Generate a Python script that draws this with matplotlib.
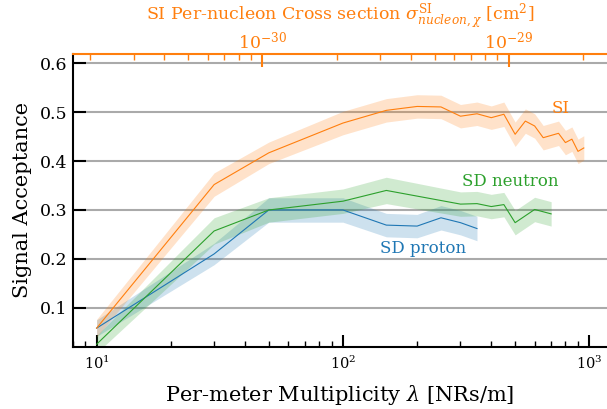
import numpy as np
import matplotlib
matplotlib.use("Agg")
import matplotlib.pyplot as plt
from matplotlib.ticker import FixedLocator, FormatStrFormatter, NullFormatter

plt.rcParams['font.family'] = ['DejaVu Serif']
plt.rcParams['mathtext.fontset'] = 'dejavuserif'

# SI signal acceptance vs per-meter multiplicity
si_lam = [10, 30, 50, 100, 150, 200, 250, 300, 350, 400, 450, 500,
          550, 600, 650, 750, 800, 850, 900, 950]
si_acc = [0.058, 0.352, 0.417, 0.478, 0.504, 0.512, 0.511, 0.492, 0.497, 0.489,
          0.496, 0.455, 0.482, 0.472, 0.448, 0.457, 0.438, 0.445, 0.420, 0.427]
si_err = [0.018, 0.024, 0.022, 0.024, 0.024, 0.024, 0.024, 0.024, 0.024, 0.024,
          0.025, 0.025, 0.025, 0.025, 0.025, 0.025, 0.025, 0.025, 0.025, 0.025]

# SD neutron
sdn_lam = [10, 30, 50, 100, 150, 300, 350, 400, 450, 500, 600, 700]
sdn_acc = [0.025, 0.257, 0.300, 0.318, 0.340, 0.312, 0.313, 0.307, 0.311,
           0.274, 0.301, 0.292]
sdn_err = [0.018, 0.027, 0.025, 0.025, 0.027, 0.025, 0.025, 0.025, 0.025,
           0.025, 0.025, 0.025]

# SD proton
sdp_lam = [10, 30, 50, 100, 150, 200, 250, 300, 350]
sdp_acc = [0.058, 0.210, 0.300, 0.300, 0.269, 0.267, 0.284, 0.274, 0.262]
sdp_err = [0.017, 0.022, 0.025, 0.025, 0.024, 0.024, 0.025, 0.025, 0.025]

# conversion lambda -> SI per-nucleon cross section [cm^2]
SIGMA_PER_LAMBDA = 2.123e-32
LAM_LIM = (8, 1180)
Y_LIM = (0.02, 0.62)

C_SI = 'tab:orange'
C_SDN = 'tab:green'
C_SDP = 'tab:blue'

fig = plt.figure(figsize=(6.07, 4.09), dpi=100)
ax = fig.add_axes([0.1198, 0.1523, 0.8802, 0.7164])

for lam, acc, err, c in [(sdp_lam, sdp_acc, sdp_err, C_SDP),
                         (sdn_lam, sdn_acc, sdn_err, C_SDN),
                         (si_lam, si_acc, si_err, C_SI)]:
    lam = np.array(lam)
    acc = np.array(acc)
    err = np.array(err)
    ax.fill_between(lam, acc - err, acc + err, color=c, alpha=0.22, lw=0)
    ax.plot(lam, acc, color=c, lw=0.8)

ax.text(766, 0.508, 'SI', color=C_SI, fontsize=12, family='DejaVu Serif',
        ha='center', va='center')
ax.text(479, 0.358, 'SD neutron', color=C_SDN, fontsize=12, family='DejaVu Serif',
        ha='center', va='center')
ax.text(212, 0.221, 'SD proton', color=C_SDP, fontsize=12, family='DejaVu Serif',
        ha='center', va='center')

ax.set_xscale('log')
ax.set_xlim(*LAM_LIM)
ax.set_ylim(*Y_LIM)
ax.xaxis.set_minor_formatter(NullFormatter())
ax.yaxis.set_major_locator(FixedLocator([0.1, 0.2, 0.3, 0.4, 0.5, 0.6]))
ax.yaxis.set_major_formatter(FormatStrFormatter('%.1f'))
ax.yaxis.grid(True, color='#aaaaaa', lw=1.5)
ax.set_axisbelow(True)

ax.tick_params(which='major', direction='in', length=9, width=1.5)
ax.tick_params(which='minor', direction='in', length=4, width=1.0)
ax.tick_params(axis='x', which='major', labelsize=10.5, pad=6)
ax.tick_params(axis='y', which='major', labelsize=12.5)
ax.tick_params(axis='y', which='minor', left=False)
for s in ['left', 'bottom']:
    ax.spines[s].set_linewidth(1.5)
ax.spines['right'].set_visible(False)
ax.spines['top'].set_visible(False)

ax.set_xlabel(r'Per-meter Multiplicity $\lambda$ [NRs/m]', fontsize=15, labelpad=8)
ax.set_ylabel('Signal Acceptance', fontsize=15, labelpad=6)

# top axis: SI per-nucleon cross section
ax2 = ax.twiny()
ax2.set_xscale('log')
ax2.set_xlim(LAM_LIM[0] * SIGMA_PER_LAMBDA, LAM_LIM[1] * SIGMA_PER_LAMBDA)
ax2.xaxis.set_minor_formatter(NullFormatter())
for s in ['left', 'bottom', 'right']:
    ax2.spines[s].set_visible(False)
ax2.spines['top'].set_color(C_SI)
ax2.spines['top'].set_linewidth(1.5)
ax2.tick_params(which='major', direction='in', length=9, width=1.5,
                color=C_SI, labelcolor=C_SI, labelsize=12.5, pad=1)
ax2.tick_params(which='minor', direction='in', length=4, width=1.0, color=C_SI)
ax2.set_xlabel(r'SI Per-nucleon Cross section $\sigma^{\rm SI}_{nucleon,\chi}$ [cm$^2$]',
               color=C_SI, fontsize=12.5, labelpad=7)

fig.canvas.draw()
for lbl in ax2.get_xticklabels():
    lbl.set_math_fontfamily('dejavusans')

fig.savefig('out.png', dpi=100)
